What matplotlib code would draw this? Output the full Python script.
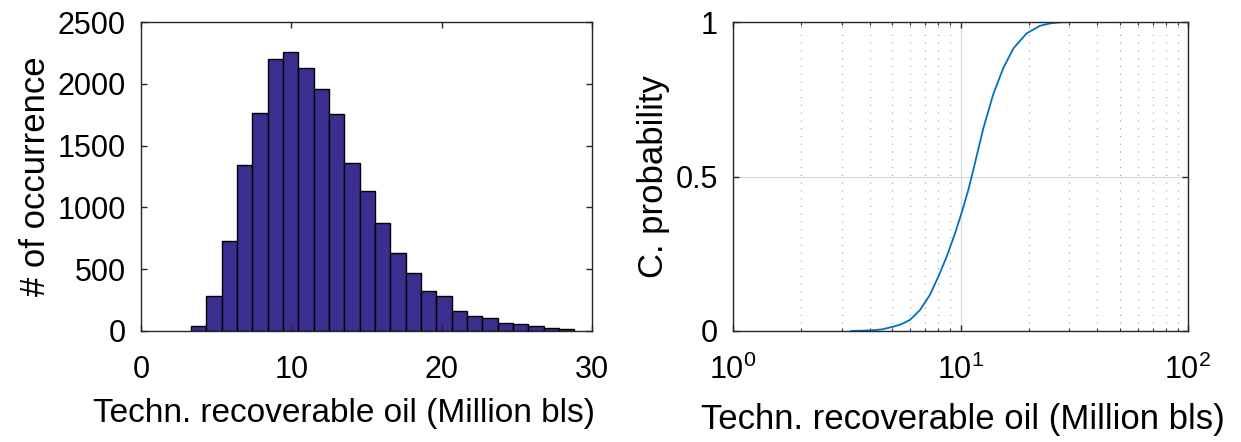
import numpy as np
import matplotlib.pyplot as plt
from matplotlib.ticker import LogLocator, NullFormatter

plt.rcParams["font.family"] = ["Liberation Sans", "DejaVu Sans"]

# histogram: 25 equal bins between the sample min and max
HIST_MIN = 3.32
HIST_MAX = 28.83
COUNTS = [43, 280, 727, 1342, 1767, 2198, 2255, 2128, 1958, 1754,
          1358, 1134, 873, 628, 466, 326, 286, 159, 124, 102,
          65, 54, 38, 24, 16]

# cumulative probability
CDF_X = [3.3, 4.0, 4.5, 5.07, 5.5, 6.0, 6.64, 7.34, 7.99, 8.69,
         9.46, 10.1, 10.82, 11.38, 12.6, 13.9, 15.4, 17.1, 19.5, 22.4,
         25.0, 27.4, 31.0, 39.4]
CDF_P = [0.0, 0.002, 0.005, 0.014, 0.022, 0.036, 0.068, 0.117, 0.176, 0.24,
         0.316, 0.381, 0.456, 0.521, 0.656, 0.764, 0.85, 0.915, 0.963, 0.988,
         0.996, 0.999, 1.0, 1.0]

XLABEL = "Techn. recoverable oil (Million bls)"
TICK_FS = 22
W, H = 1241, 442

fig = plt.figure(figsize=(W / 100, H / 100), dpi=100)
ax1 = fig.add_axes([141 / W, 111 / H, 451 / W, 309 / H])
ax2 = fig.add_axes([733 / W, 111 / H, 455 / W, 309 / H])

edges = np.linspace(HIST_MIN, HIST_MAX, len(COUNTS) + 1)
ax1.bar(edges[:-1], COUNTS, width=np.diff(edges), align="edge",
        color="#3a2f8f", edgecolor="black", linewidth=1.0)
ax1.set_xlim(0, 30)
ax1.set_ylim(0, 2500)
ax1.set_xticks([0, 10, 20, 30])
ax1.set_yticks([0, 500, 1000, 1500, 2000, 2500])
ax1.set_ylabel("# of occurrence", fontsize=25)
ax1.set_xlabel(XLABEL, fontsize=24)
ax1.yaxis.set_label_coords(-0.197, 0.5)
ax1.xaxis.set_label_coords(0.45, -0.217)

ax2.plot(CDF_X, CDF_P, color="#0072bd", linewidth=1.3)
ax2.set_xscale("log")
ax2.set_xlim(1, 100)
ax2.set_ylim(0, 1)
ax2.set_yticks([0, 0.5, 1])
ax2.set_yticklabels(["0", "0.5", "1"])
ax2.xaxis.set_minor_locator(LogLocator(base=10, subs=np.arange(2, 10)))
ax2.xaxis.set_minor_formatter(NullFormatter())
ax2.grid(True, which="major", color="#d9d9d9", linewidth=0.9)
ax2.grid(True, which="minor", axis="x", color="#9a9a9a", linestyle=(0, (1, 6)),
         linewidth=0.8)
ax2.set_axisbelow(True)
ax2.set_ylabel("C. probability", fontsize=25)
ax2.set_xlabel(XLABEL, fontsize=25)
ax2.yaxis.set_label_coords(-0.138, 0.5)
ax2.xaxis.set_label_coords(0.505, -0.233)

for ax in (ax1, ax2):
    for sp in ax.spines.values():
        sp.set_color("#262626")
        sp.set_linewidth(1.0)
    ax.tick_params(which="both", direction="in", top=True, right=True,
                   labelsize=TICK_FS, color="#262626")
    ax.tick_params(which="major", length=4.5, width=1.0)
    ax.tick_params(which="minor", length=2.5, width=0.8)
    ax.tick_params(axis="x", pad=17)
    ax.tick_params(axis="y", pad=11)

fig.savefig("out.png", dpi=100)
